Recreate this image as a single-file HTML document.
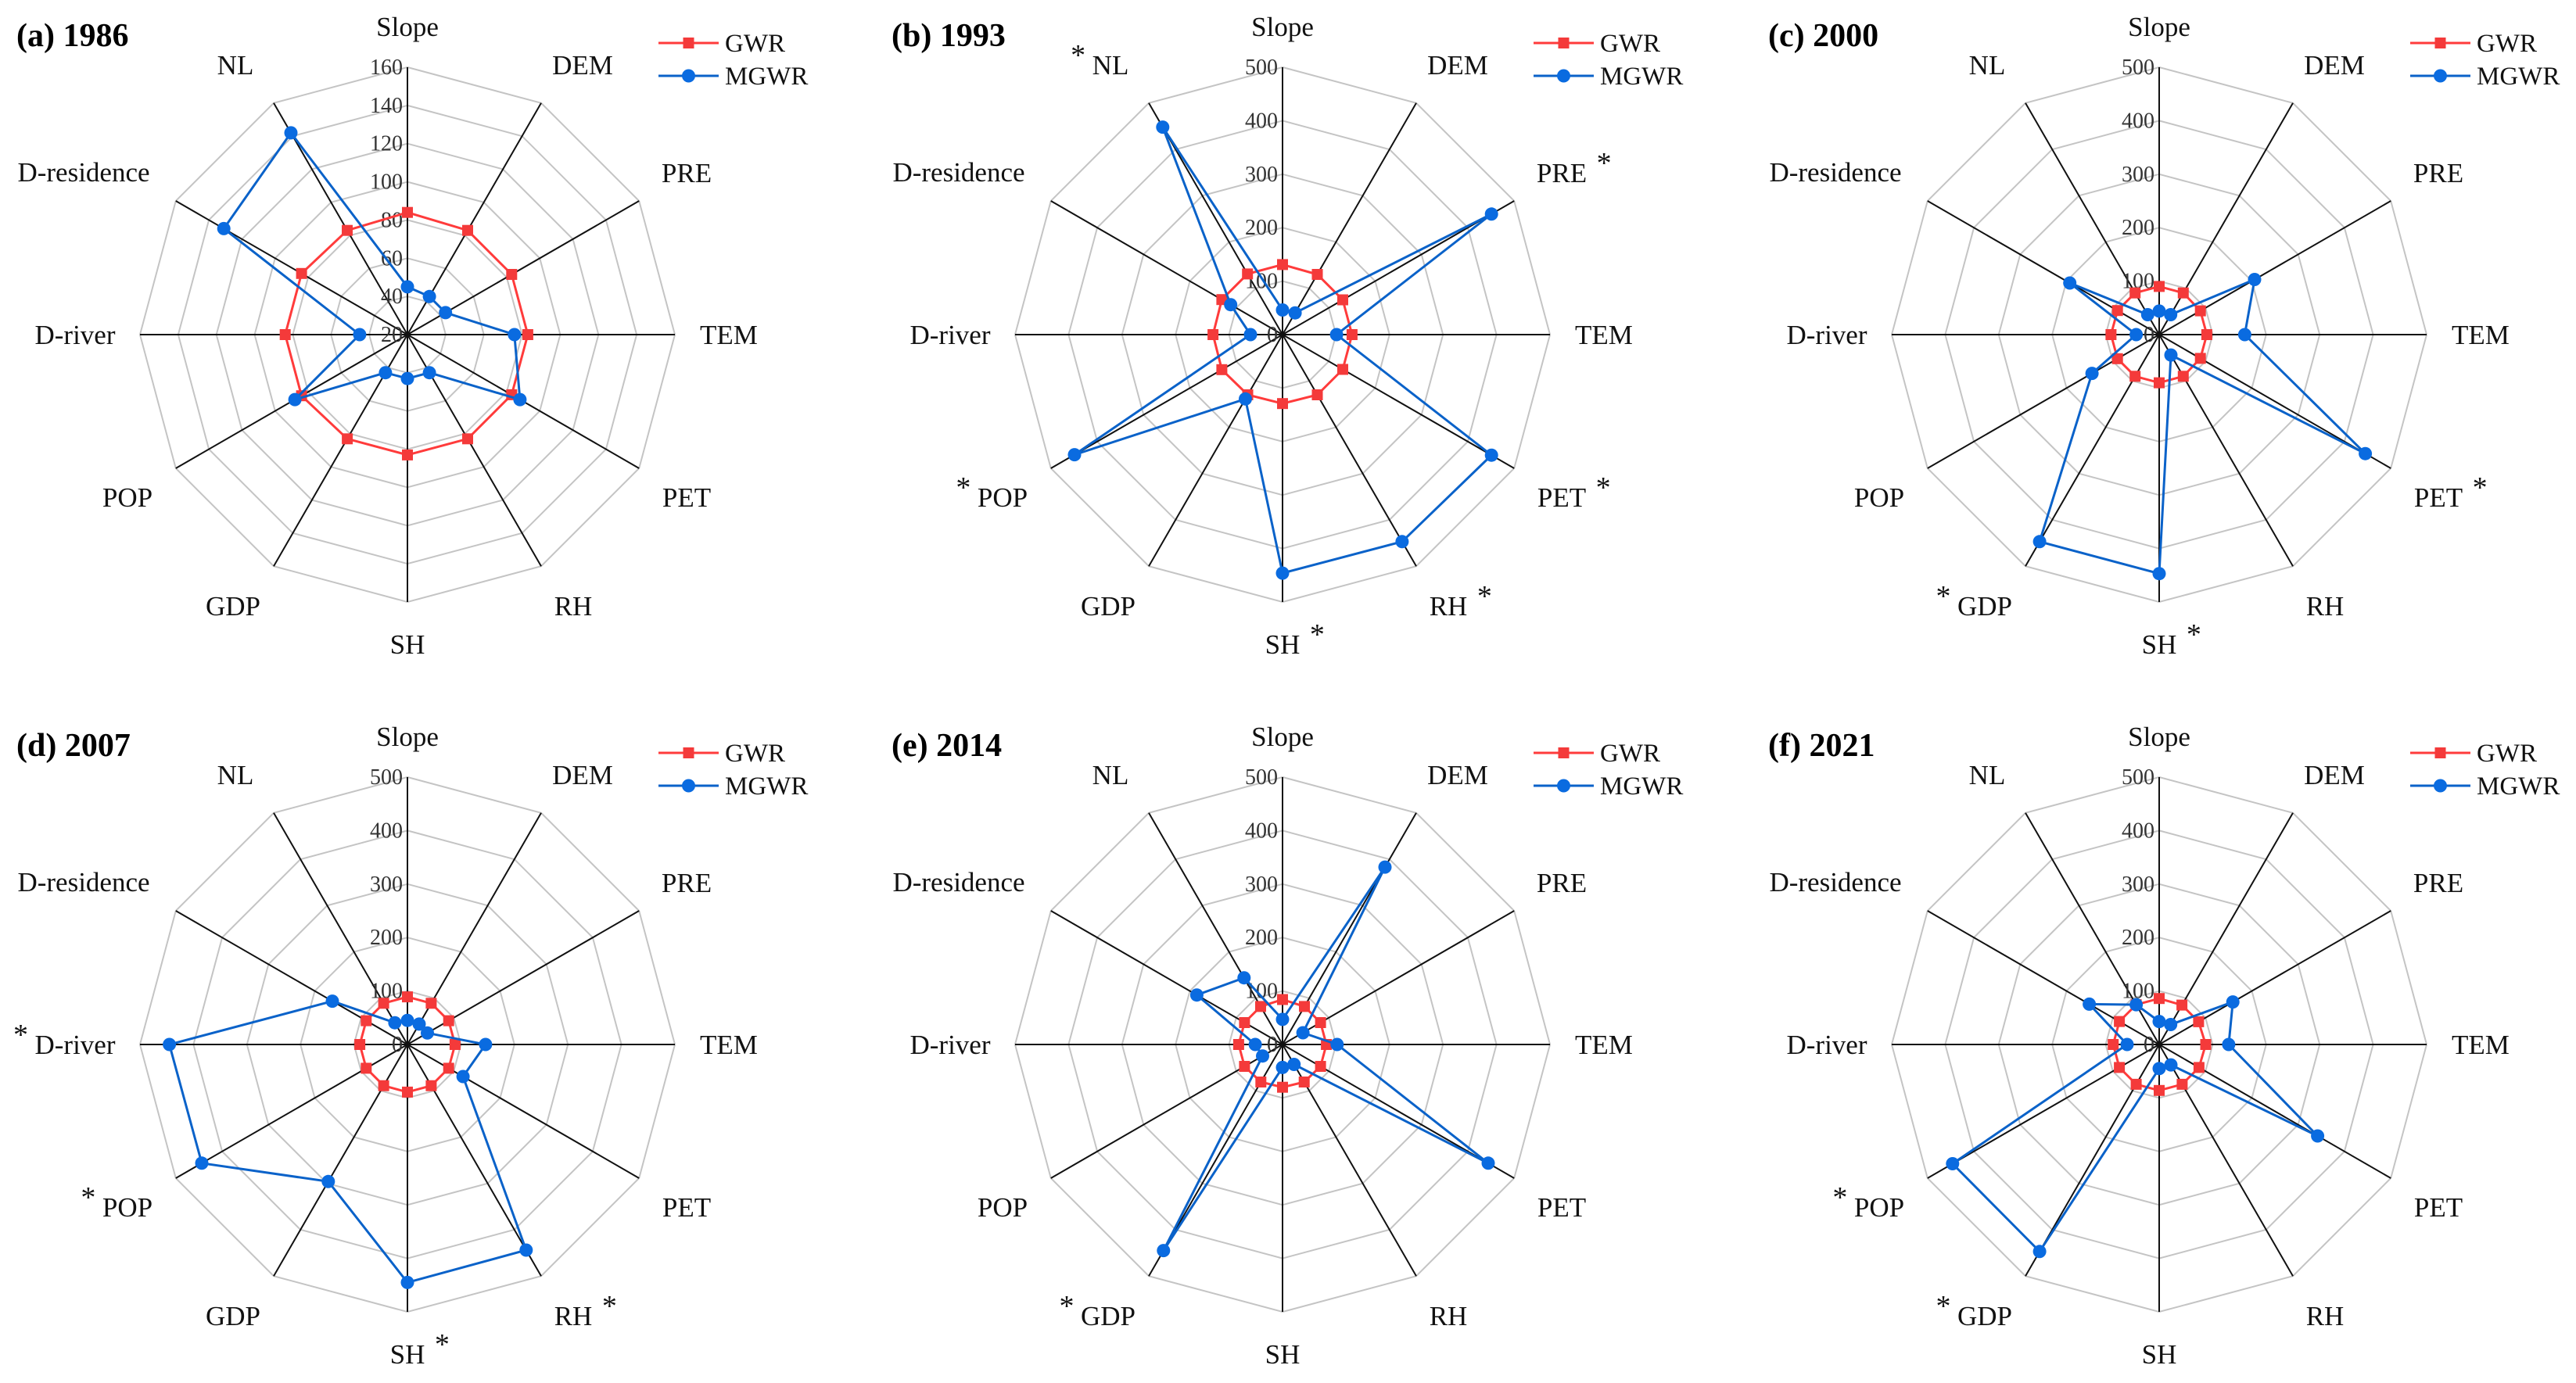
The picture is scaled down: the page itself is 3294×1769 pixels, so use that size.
<!DOCTYPE html>
<html><head><meta charset="utf-8">
<style>
html,body{margin:0;padding:0;background:#fff;}
svg{display:block;}
svg text{font-family:"Liberation Serif","Times New Roman","DejaVu Serif",serif;}
</style></head>
<body>
<svg id="chart" xmlns="http://www.w3.org/2000/svg" width="3294" height="1769" viewBox="0 0 3294 1769" font-family="Liberation Serif, DejaVu Serif, serif">
<rect width="3294" height="1769" fill="#fff"/>
</svg>
<script>
const axisNames = ["Slope","DEM","PRE","TEM","PET","RH","SH","GDP","POP","D-river","D-residence","NL"];
const panelTitles = ["(a) 1986","(b) 1993","(c) 2000","(d) 2007","(e) 2014","(f) 2021"];
const ticksA = [20,40,60,80,100,120,140,160];
const ticksB = [0,100,200,300,400,500];
const gwr1986 = [84,83,83,83,83,83,83,83,84,84,84,83];
const mgwr1986 = [45,43,43,76,88,43,43,43,88,45,131,142];
const gwr1993 = [131,130,130,130,130,130,129,130,131,130,131,131];
const mgwr1993 = [46,47,451,101,451,447,446,139,449,60,112,448];
const gwr2000 = [90,90,89,89,89,90,90,90,90,90,90,90];
const mgwr2000 = [44,43,206,160,445,44,447,447,145,43,193,43];
const gwr2007 = [89,89,89,89,89,89,89,89,89,89,89,89];
const mgwr2007 = [45,44,43,146,120,444,445,296,444,445,162,47];
const gwr2014 = [84,82,82,82,82,81,80,81,82,82,82,82];
const mgwr2014 = [47,383,44,102,444,43,43,445,43,51,185,144];
const gwr2021 = [86,85,85,87,86,86,86,86,86,86,86,86];
const mgwr2021 = [43,43,159,130,342,44,45,447,446,60,151,86];
const star1986 = {};
const star1993 = {11:'b',2:'a',4:'a',5:'a',6:'a',8:'b'};
const star2000 = {4:'a',7:'b',6:'a'};
const star2007 = {9:'b',8:'b',5:'a',6:'a'};
const star2014 = {7:'b'};
const star2021 = {8:'b',7:'b'};

const NS = "http://www.w3.org/2000/svg";
const FONT = '"Liberation Serif", "DejaVu Serif", serif';
const svg = document.getElementById('chart');
const R = 342;
const centers = [[521,428],[1640,428],[2761,428],[521,1336],[1640,1336],[2761,1336]];
const labelOff = [[0,-394],[224,-345],[357,-207],[411,0],[357,208],[212,347],[0,396],[-223,347],[-358,208],[-425,0],[-414,-208],[-220,-345]];

function mk(tag, attrs, parent){
  const e = document.createElementNS(NS, tag);
  for (const k in attrs) e.setAttribute(k, attrs[k]);
  if (tag === 'text') e.setAttribute('font-family', FONT);
  parent.appendChild(e);
  return e;
}
function ang(i){ return i*Math.PI/6; }

const panels = [
  {t:ticksA, g:gwr1986, m:mgwr1986, s:star1986},
  {t:ticksB, g:gwr1993, m:mgwr1993, s:star1993},
  {t:ticksB, g:gwr2000, m:mgwr2000, s:star2000},
  {t:ticksB, g:gwr2007, m:mgwr2007, s:star2007},
  {t:ticksB, g:gwr2014, m:mgwr2014, s:star2014},
  {t:ticksB, g:gwr2021, m:mgwr2021, s:star2021}
];

panels.forEach((p, pi) => {
  const [cx, cy] = centers[pi];
  const vmin = p.t[0], vmax = p.t[p.t.length-1];
  const rs = v => (v - vmin) / (vmax - vmin) * R;
  const pt = (i, v) => [cx + rs(v)*Math.sin(ang(i)), cy - rs(v)*Math.cos(ang(i))];
  const grp = mk('g', {}, svg);
  
  

  p.t.slice(1).forEach(tv => {
    const pts = axisNames.map((_, i) => pt(i, tv).map(n=>n.toFixed(1)).join(',')).join(' ');
    const ring = mk('polygon', {points:pts, fill:'none', stroke:'#c4c4c4', 'stroke-width':2}, grp);
    
    
  });
  axisNames.forEach((_, i) => {
    const [x, y] = pt(i, vmax);
    const ax = mk('line', {x1:cx, y1:cy, x2:x.toFixed(1), y2:y.toFixed(1), stroke:'#111', 'stroke-width':2}, grp);
    
    
  });
  p.t.forEach(tv => {
    const [x, y] = pt(0, tv);
    const tl = mk('text', {x:(x-6).toFixed(1), y:(y+9).toFixed(1), 'text-anchor':'end', 'font-size':28, fill:'#333'}, grp);
    tl.textContent = tv;
    
    
  });
  axisNames.forEach((nm, i) => {
    const lx = cx + labelOff[i][0], ly = cy + labelOff[i][1] + 12;
    const lab = mk('text', {x:lx, y:ly, 'text-anchor':'middle', 'font-size':35, fill:'#111'}, grp);
    lab.textContent = nm;
    
    
    if (p.s[i]) {
      const w = lab.getComputedTextLength ? lab.getComputedTextLength() : nm.length*18;
      const sx = p.s[i] === 'a' ? lx + w/2 + 22 : lx - w/2 - 18;
      const st = mk('text', {x:sx, y:ly - 12, 'text-anchor':'middle', 'font-size':38, fill:'#111'}, grp);
      st.textContent = '*';
      
      
    }
  });
  const gp = p.g.map((v,i)=>pt(i,v));
  const gl = mk('polygon', {points:gp.map(q=>q.map(n=>n.toFixed(1)).join(',')).join(' '), fill:'none', stroke:'#ff3b3b', 'stroke-width':3}, grp);
  
  
  gp.forEach(q => {
    const sq = mk('rect', {x:(q[0]-7).toFixed(1), y:(q[1]-7).toFixed(1), width:14, height:14, fill:'#f43a3a'}, grp);
    
    
  });
  const mp = p.m.map((v,i)=>pt(i,v));
  const ml = mk('polygon', {points:mp.map(q=>q.map(n=>n.toFixed(1)).join(',')).join(' '), fill:'none', stroke:'#0a62c9', 'stroke-width':3}, grp);
  
  
  mp.forEach(q => {
    const c = mk('circle', {cx:q[0].toFixed(1), cy:q[1].toFixed(1), r:8.5, fill:'#0a6be0'}, grp);
    
    
  });
  const tt = mk('text', {x:cx - 500, y:cy - 369, 'font-size':42, 'font-weight':'bold', fill:'#000'}, grp);
  tt.textContent = panelTitles[pi];
  
  
  const lg = mk('g', {}, grp);
  
  
  const ly1 = cy - 373, ly2 = cy - 331, lx0 = cx + 321, lx1 = cx + 398;
  mk('line', {x1:lx0, y1:ly1, x2:lx1, y2:ly1, stroke:'#ff3b3b', 'stroke-width':3}, lg);
  mk('rect', {x:(lx0+lx1)/2-7, y:ly1-7, width:14, height:14, fill:'#f43a3a'}, lg);
  const t1 = mk('text', {x:cx+406, y:ly1+11, 'font-size':33, fill:'#111'}, lg);
  t1.textContent = 'GWR';
  
  
  mk('line', {x1:lx0, y1:ly2, x2:lx1, y2:ly2, stroke:'#0a62c9', 'stroke-width':3}, lg);
  mk('circle', {cx:(lx0+lx1)/2, cy:ly2, r:8.5, fill:'#0a6be0'}, lg);
  const t2 = mk('text', {x:cx+406, y:ly2+11, 'font-size':33, fill:'#111'}, lg);
  t2.textContent = 'MGWR';
  
  
});
</script>
</body></html>
